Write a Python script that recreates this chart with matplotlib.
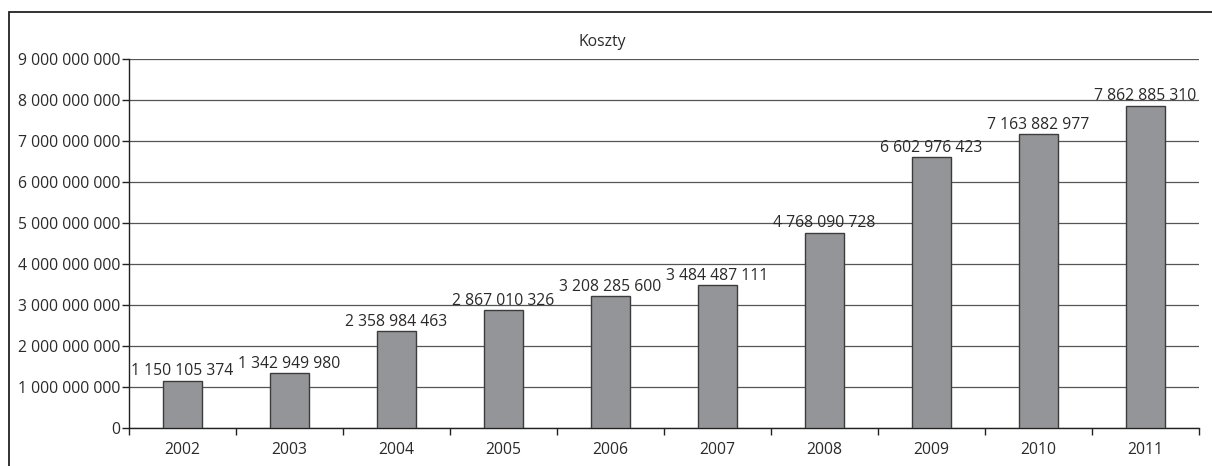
import matplotlib.pyplot as plt
from matplotlib.patches import Rectangle
from matplotlib.ticker import FuncFormatter, FixedLocator
import numpy as np

plt.rcParams['font.family'] = ['Open Sans', 'DejaVu Sans']

# Yearly costs
years = ['2002', '2003', '2004', '2005', '2006', '2007', '2008', '2009', '2010', '2011']
costs = [1150105374, 1342949980, 2358984463, 2867010326, 3208285600,
         3484487111, 4768090728, 6602976423, 7163882977, 7862885310]

def fmt(v):
    return f'{int(v):,}'.replace(',', ' ')

FS = 11.3

fig = plt.figure(figsize=(12.12, 4.66), dpi=100)
ax = fig.add_axes([129 / 1212, 1 - 428 / 466, 1070 / 1212, (428 - 59) / 466])

x = np.arange(len(years))
ax.bar(x, costs, width=0.36, color='#939598', edgecolor='#3c3c3c', linewidth=1.0, zorder=3)

for xi, v in zip(x, costs):
    ax.annotate(fmt(v), (xi, v), xytext=(0, 1), textcoords='offset points',
                ha='center', va='bottom', fontsize=FS, color='#2a2a2a', zorder=4)

ax.set_xlim(-0.5, len(years) - 0.5)
ax.set_ylim(0, 9e9)
ax.set_yticks(np.arange(0, 9.5e9, 1e9))
ax.yaxis.set_major_formatter(FuncFormatter(lambda v, p: fmt(v)))
ax.yaxis.grid(True, color='#555555', linewidth=0.9, zorder=0)

# year labels centred under bars, tick marks on category boundaries
ax.set_xticks(x)
ax.set_xticklabels(years)
ax.tick_params(axis='x', which='major', length=0, pad=10)
ax.xaxis.set_minor_locator(FixedLocator(np.arange(-0.5, len(years), 1.0)))
ax.tick_params(axis='x', which='minor', length=5, width=1.0, color='#222222', direction='out')
ax.tick_params(axis='y', length=5, width=1.0, color='#222222', pad=1)
ax.tick_params(labelsize=FS, labelcolor='#2a2a2a')

for s in ['top', 'right']:
    ax.spines[s].set_visible(False)
for s in ['left', 'bottom']:
    ax.spines[s].set_color('#222222')
    ax.spines[s].set_linewidth(1.0)

fig.text(0.497, 1 - 42 / 466, 'Koszty', ha='center', va='center', fontsize=FS, color='#2a2a2a')

# outer frame
fig.patches.append(Rectangle((9 / 1212, -0.05), 1.1, 1.05 - 12 / 466,
                             transform=fig.transFigure, fill=False,
                             edgecolor='#222222', linewidth=1.3))

fig.savefig('out.png', dpi=100)
